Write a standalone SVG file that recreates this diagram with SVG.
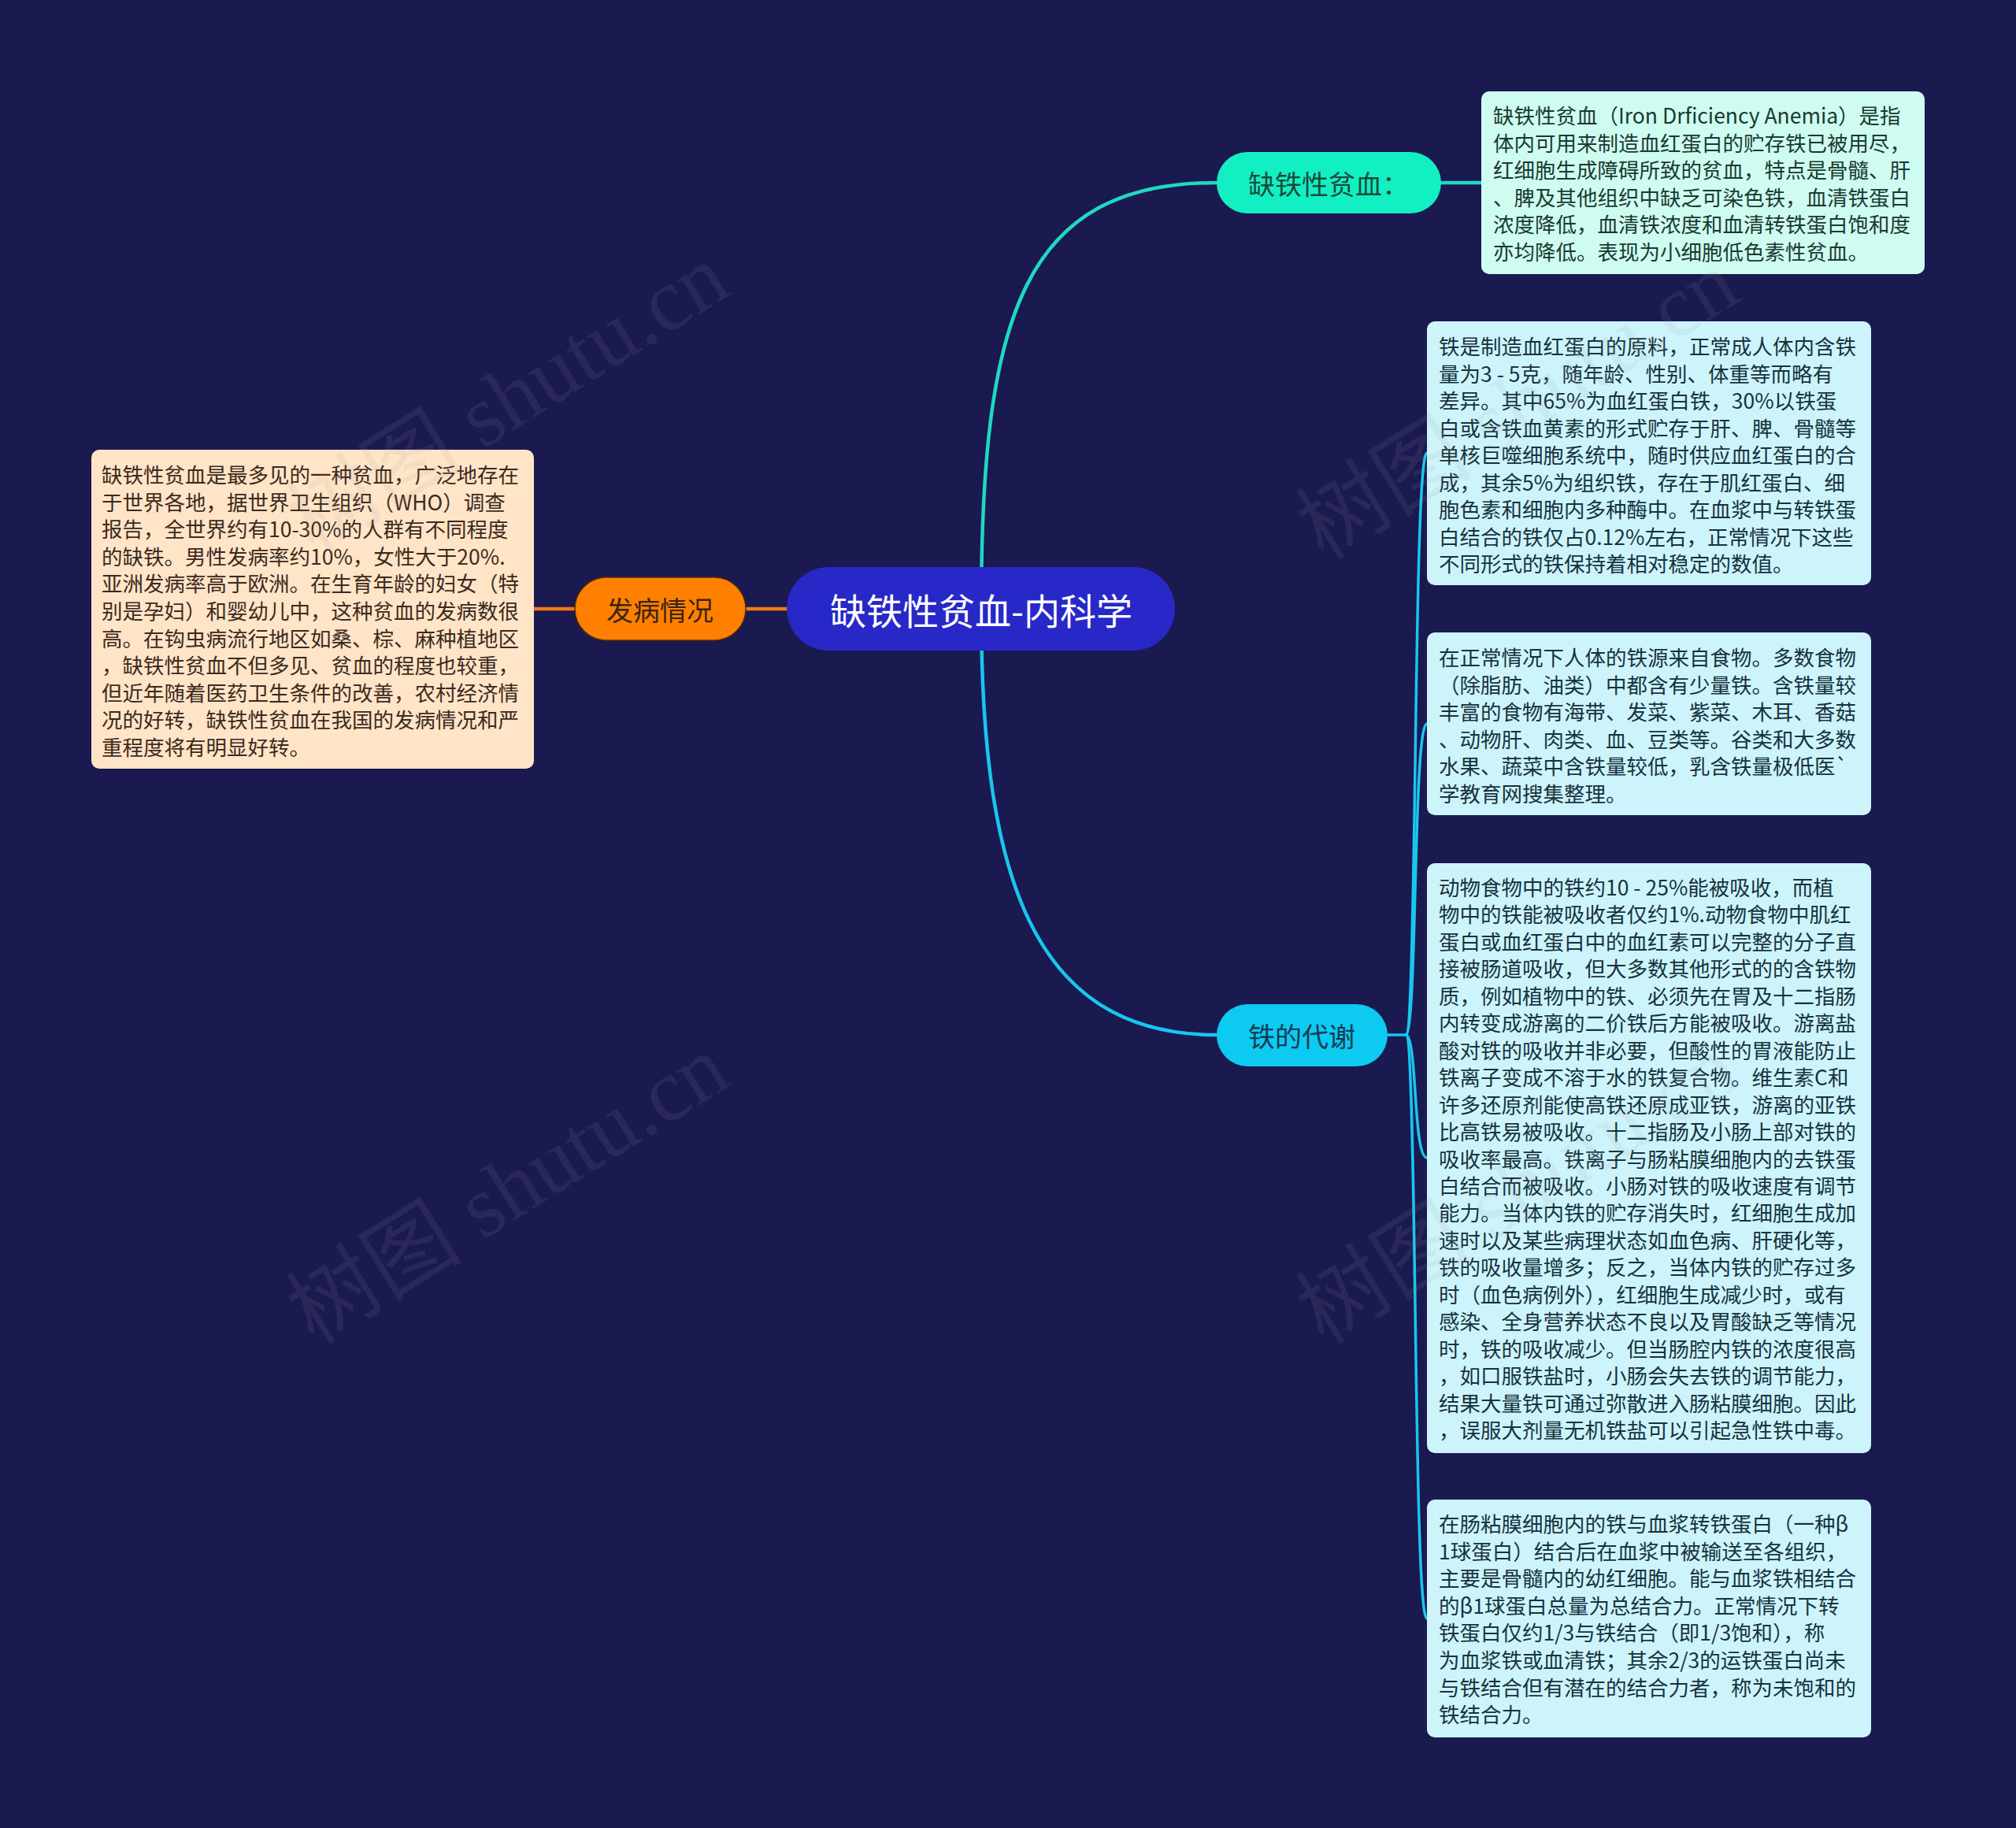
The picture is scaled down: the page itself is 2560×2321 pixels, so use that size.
<svg xmlns="http://www.w3.org/2000/svg" width="2560" height="2321" viewBox="0 0 2560 2321">
<style>
.bg{fill:#1a1950}
.t{font-family:"Noto Sans CJK SC","Liberation Sans",sans-serif;}
.body{font-size:26.5px;dominant-baseline:central}
.lbox{fill:#ffe4c8}
.rbox{fill:#cdf4fb}
.mbox{fill:#cffcf0}
.ltxt{fill:#3c2a1c}
.rtxt{fill:#17323e}
.mtxt{fill:#183a30}
.lbl{font-size:34px;text-anchor:middle;dominant-baseline:central}
.wm{font-family:"Liberation Serif","Noto Sans CJK SC",serif;font-size:112px;fill:#a0a0a0;opacity:0.11;text-anchor:middle;dominant-baseline:central}
</style>
<rect class="bg" x="0" y="0" width="2560" height="2321"/>

<g id="connectors" fill="none" stroke-linecap="round">
  <path d="M1246,773 C1246,400 1300,232 1545,232" stroke="#1fd9c0" stroke-width="4.5"/>
  <path d="M1830,232 L1881,232" stroke="#1fd9c0" stroke-width="4.5"/>
  <path d="M1246,773 C1246,1110 1310,1314 1545,1314" stroke="#18c6ee" stroke-width="4.5"/>
  <path d="M678,773 L730,773" stroke="#f07a10" stroke-width="4.5"/>
  <path d="M947,773 L999,773" stroke="#f07a10" stroke-width="4.5"/>
  <g stroke="#18c6ee" stroke-width="3.5">
    <path d="M1762,1314 L1785,1314"/>
    <path d="M1785,1314 C1800,1314 1794,575 1812,575"/>
    <path d="M1785,1314 C1800,1314 1794,919 1812,919"/>
    <path d="M1785,1314 C1800,1314 1794,1470 1812,1470"/>
    <path d="M1785,1314 C1800,1314 1794,2055 1812,2055"/>
  </g>
</g>

<g id="root">
  <rect x="999" y="720" width="493" height="106" rx="53" fill="#2828c8"/>
  <text class="t" x="1246" y="773" font-size="46" fill="#ffffff" text-anchor="middle" dominant-baseline="central">缺铁性贫血-内科学</text>
</g>

<g id="n-fabing">
  <rect x="730" y="733" width="217" height="80" rx="40" fill="#ff8000" stroke="#5a2a05" stroke-width="1.5"/>
  <text class="t lbl" x="838" y="773" fill="#3a2410">发病情况</text>
</g>

<g id="n-fabing-text">
  <rect class="lbox" x="116" y="571" width="562" height="405" rx="10"/>
  <text class="t body ltxt" x="129" y="601">
    <tspan x="129" y="601">缺铁性贫血是最多见的一种贫血，广泛地存在</tspan>
    <tspan x="129" dy="34.6">于世界各地，据世界卫生组织（WHO）调查</tspan>
    <tspan x="129" dy="34.6">报告，全世界约有10-30%的人群有不同程度</tspan>
    <tspan x="129" dy="34.6">的缺铁。男性发病率约10%，女性大于20%.</tspan>
    <tspan x="129" dy="34.6">亚洲发病率高于欧洲。在生育年龄的妇女（特</tspan>
    <tspan x="129" dy="34.6">别是孕妇）和婴幼儿中，这种贫血的发病数很</tspan>
    <tspan x="129" dy="34.6">高。在钩虫病流行地区如桑、棕、麻种植地区</tspan>
    <tspan x="129" dy="34.6">，缺铁性贫血不但多见、贫血的程度也较重，</tspan>
    <tspan x="129" dy="34.6">但近年随着医药卫生条件的改善，农村经济情</tspan>
    <tspan x="129" dy="34.6">况的好转，缺铁性贫血在我国的发病情况和严</tspan>
    <tspan x="129" dy="34.6">重程度将有明显好转。</tspan>
  </text>
</g>

<g id="n-queti">
  <rect x="1545" y="193" width="285" height="78" rx="39" fill="#12efc2"/>
  <text class="t lbl" x="1687" y="232" fill="#1a4a3a">缺铁性贫血：</text>
</g>

<g id="n-queti-text">
  <rect class="mbox" x="1881" y="116" width="563" height="232" rx="10"/>
  <text class="t body mtxt">
    <tspan x="1896" y="145">缺铁性贫血（Iron Drficiency Anemia）是指</tspan>
    <tspan x="1896" dy="34.6">体内可用来制造血红蛋白的贮存铁已被用尽，</tspan>
    <tspan x="1896" dy="34.6">红细胞生成障碍所致的贫血，特点是骨髓、肝</tspan>
    <tspan x="1896" dy="34.6">、脾及其他组织中缺乏可染色铁，血清铁蛋白</tspan>
    <tspan x="1896" dy="34.6">浓度降低，血清铁浓度和血清转铁蛋白饱和度</tspan>
    <tspan x="1896" dy="34.6">亦均降低。表现为小细胞低色素性贫血。</tspan>
  </text>
</g>

<g id="n-daixie">
  <rect x="1545" y="1275" width="217" height="79" rx="39.5" fill="#0ccaf0"/>
  <text class="t lbl" x="1653" y="1314" fill="#173a50">铁的代谢</text>
</g>

<g id="n-daixie-1">
  <rect class="rbox" x="1812" y="408" width="564" height="335" rx="10"/>
  <text class="t body rtxt">
    <tspan x="1827" y="438">铁是制造血红蛋白的原料，正常成人体内含铁</tspan>
    <tspan x="1827" dy="34.5">量为3 - 5克，随年龄、性别、体重等而略有</tspan>
    <tspan x="1827" dy="34.5">差异。其中65%为血红蛋白铁，30%以铁蛋</tspan>
    <tspan x="1827" dy="34.5">白或含铁血黄素的形式贮存于肝、脾、骨髓等</tspan>
    <tspan x="1827" dy="34.5">单核巨噬细胞系统中，随时供应血红蛋白的合</tspan>
    <tspan x="1827" dy="34.5">成，其余5%为组织铁，存在于肌红蛋白、细</tspan>
    <tspan x="1827" dy="34.5">胞色素和细胞内多种酶中。在血浆中与转铁蛋</tspan>
    <tspan x="1827" dy="34.5">白结合的铁仅占0.12%左右，正常情况下这些</tspan>
    <tspan x="1827" dy="34.5">不同形式的铁保持着相对稳定的数值。</tspan>
  </text>
</g>

<g id="n-daixie-2">
  <rect class="rbox" x="1812" y="803" width="564" height="232" rx="10"/>
  <text class="t body rtxt">
    <tspan x="1827" y="833">在正常情况下人体的铁源来自食物。多数食物</tspan>
    <tspan x="1827" dy="34.5">（除脂肪、油类）中都含有少量铁。含铁量较</tspan>
    <tspan x="1827" dy="34.5">丰富的食物有海带、发菜、紫菜、木耳、香菇</tspan>
    <tspan x="1827" dy="34.5">、动物肝、肉类、血、豆类等。谷类和大多数</tspan>
    <tspan x="1827" dy="34.5">水果、蔬菜中含铁量较低，乳含铁量极低医`</tspan>
    <tspan x="1827" dy="34.5">学教育网搜集整理。</tspan>
  </text>
</g>

<g id="n-daixie-3">
  <rect class="rbox" x="1812" y="1096" width="564" height="749" rx="10"/>
  <text class="t body rtxt">
    <tspan x="1827" y="1125">动物食物中的铁约10 - 25%能被吸收，而植</tspan>
    <tspan x="1827" dy="34.45">物中的铁能被吸收者仅约1%.动物食物中肌红</tspan>
    <tspan x="1827" dy="34.45">蛋白或血红蛋白中的血红素可以完整的分子直</tspan>
    <tspan x="1827" dy="34.45">接被肠道吸收，但大多数其他形式的的含铁物</tspan>
    <tspan x="1827" dy="34.45">质，例如植物中的铁、必须先在胃及十二指肠</tspan>
    <tspan x="1827" dy="34.45">内转变成游离的二价铁后方能被吸收。游离盐</tspan>
    <tspan x="1827" dy="34.45">酸对铁的吸收并非必要，但酸性的胃液能防止</tspan>
    <tspan x="1827" dy="34.45">铁离子变成不溶于水的铁复合物。维生素C和</tspan>
    <tspan x="1827" dy="34.45">许多还原剂能使高铁还原成亚铁，游离的亚铁</tspan>
    <tspan x="1827" dy="34.45">比高铁易被吸收。十二指肠及小肠上部对铁的</tspan>
    <tspan x="1827" dy="34.45">吸收率最高。铁离子与肠粘膜细胞内的去铁蛋</tspan>
    <tspan x="1827" dy="34.45">白结合而被吸收。小肠对铁的吸收速度有调节</tspan>
    <tspan x="1827" dy="34.45">能力。当体内铁的贮存消失时，红细胞生成加</tspan>
    <tspan x="1827" dy="34.45">速时以及某些病理状态如血色病、肝硬化等，</tspan>
    <tspan x="1827" dy="34.45">铁的吸收量增多；反之，当体内铁的贮存过多</tspan>
    <tspan x="1827" dy="34.45">时（血色病例外），红细胞生成减少时，或有</tspan>
    <tspan x="1827" dy="34.45">感染、全身营养状态不良以及胃酸缺乏等情况</tspan>
    <tspan x="1827" dy="34.45">时，铁的吸收减少。但当肠腔内铁的浓度很高</tspan>
    <tspan x="1827" dy="34.45">，如口服铁盐时，小肠会失去铁的调节能力，</tspan>
    <tspan x="1827" dy="34.45">结果大量铁可通过弥散进入肠粘膜细胞。因此</tspan>
    <tspan x="1827" dy="34.45">，误服大剂量无机铁盐可以引起急性铁中毒。</tspan>
  </text>
</g>

<g id="n-daixie-4">
  <rect class="rbox" x="1812" y="1904" width="564" height="302" rx="10"/>
  <text class="t body rtxt">
    <tspan x="1827" y="1933">在肠粘膜细胞内的铁与血浆转铁蛋白（一种β</tspan>
    <tspan x="1827" dy="34.6">1球蛋白）结合后在血浆中被输送至各组织，</tspan>
    <tspan x="1827" dy="34.6">主要是骨髓内的幼红细胞。能与血浆铁相结合</tspan>
    <tspan x="1827" dy="34.6">的β1球蛋白总量为总结合力。正常情况下转</tspan>
    <tspan x="1827" dy="34.6">铁蛋白仅约1/3与铁结合（即1/3饱和），称</tspan>
    <tspan x="1827" dy="34.6">为血浆铁或血清铁；其余2/3的运铁蛋白尚未</tspan>
    <tspan x="1827" dy="34.6">与铁结合但有潜在的结合力者，称为未饱和的</tspan>
    <tspan x="1827" dy="34.6">铁结合力。</tspan>
  </text>
</g>

<g id="watermarks">
  <text class="wm" transform="translate(645,506) rotate(-32)">树图 shutu.cn</text>
  <text class="wm" transform="translate(645,1510) rotate(-32)">树图 shutu.cn</text>
  <text class="wm" transform="translate(1927,514) rotate(-32)">树图 shutu.cn</text>
  <text class="wm" transform="translate(1927,1510) rotate(-32)">树图 shutu.cn</text>
</g>
</svg>
